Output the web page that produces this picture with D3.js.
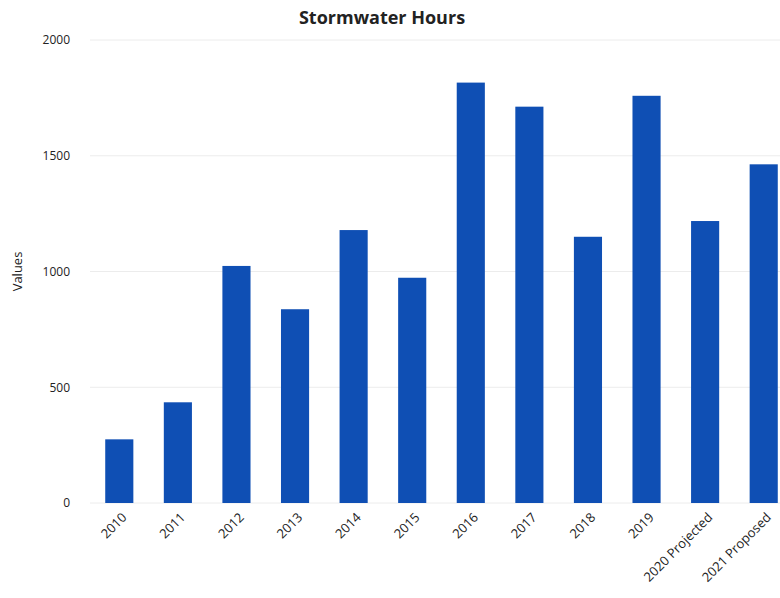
<!DOCTYPE html>
<html>
<head>
<meta charset="utf-8">
<script src="https://cdn.jsdelivr.net/npm/d3@7"></script>
<style>
  body { margin: 0; background: #fff; }
  svg text { font-family: "Open Sans", "Noto Sans", sans-serif; fill: #222; }
  .grid line { stroke: #ececec; }
</style>
</head>
<body>
<div id="chart"></div>
<script>
const categories = ['2010', '2011', '2012', '2013', '2014', '2015', '2016', '2017', '2018', '2019', '2020 Projected', '2021 Proposed'];
const hours = [275, 435, 1024, 837, 1179, 973, 1816, 1712, 1150, 1759, 1218, 1463];
const yTicks = [0, 500, 1000, 1500, 2000];

const width = 780;
const height = 598;
const margin = { left: 90, top: 40, bottom: 95 };

const svg = d3.select('#chart')
  .append('svg')
    .attr('width', width)
    .attr('height', height);

const x = d3.scaleBand()
  .domain(categories)
  .range([margin.left, margin.left + 703])
  .paddingInner(0.52)
  .paddingOuter(0.26);

const y = d3.scaleLinear()
  .domain([0, 2000])
  .range([height - margin.bottom, margin.top]);

// gridlines
svg.append('g')
  .attr('class', 'grid')
  .selectAll('line')
  .data(yTicks)
  .join('line')
    .attr('x1', margin.left)
    .attr('x2', width)
    .attr('y1', d => y(d))
    .attr('y2', d => y(d));

// y axis labels
svg.append('g')
  .attr('transform', `translate(${70}, 0)`)
  .call(d3.axisLeft(y).tickValues(yTicks).tickFormat(d3.format('d')).tickSize(0).tickPadding(0))
  .call(g => g.select('.domain').remove())
  .selectAll('text')
    .style('font-size', '12px');

// bars
svg.append('g')
  .attr('fill', '#0f4fb4')
  .selectAll('rect')
  .data(hours)
  .join('rect')
    .attr('x', (d, i) => x(categories[i]))
    .attr('y', d => y(d))
    .attr('width', x.bandwidth())
    .attr('height', d => y(0) - y(d));

// x axis labels
svg.append('g')
  .attr('transform', `translate(0, ${y(0)})`)
  .call(d3.axisBottom(x).tickSize(0).tickPadding(0))
  .call(g => g.select('.domain').remove())
  .selectAll('text')
    .style('font-size', '13px')
    .attr('text-anchor', 'end')
    .attr('transform', 'translate(5, 12) rotate(-45)')
    .attr('dy', '0.35em');

svg.append('text')
  .attr('x', 382)
  .attr('y', 24)
  .attr('text-anchor', 'middle')
  .style('font-size', '18px')
  .style('font-weight', 'bold')
  .text('Stormwater Hours');

svg.append('text')
  .attr('transform', `translate(22, ${(y(0) + y(2000)) / 2}) rotate(-90)`)
  .attr('text-anchor', 'middle')
  .style('font-size', '13px')
  .text('Values');
</script>
</body>
</html>
